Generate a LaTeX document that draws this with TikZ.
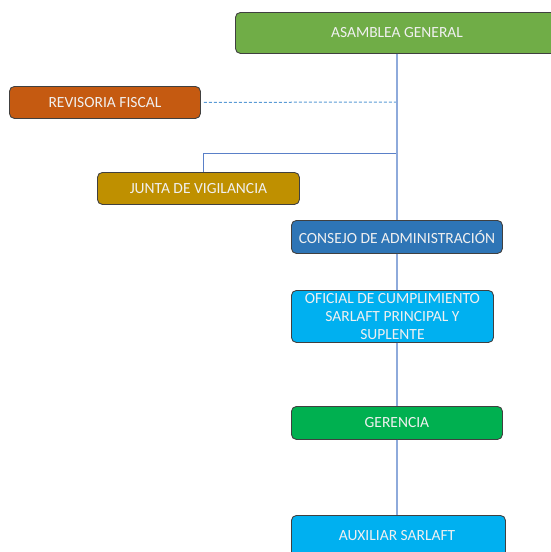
\documentclass[tikz,border=0pt]{standalone}
\usepackage{fontspec}
\setmainfont{Carlito}
\begin{document}
\begin{tikzpicture}[x=1pt,y=-1pt,
  box/.style={draw=black!75, line width=0.9pt, rounded corners=5pt, text=white!94!black, font=\fontsize{15.5}{18}\selectfont, align=center, inner sep=0pt},
  lbl/.style={text=white!94!black, font=\fontsize{15.5}{18}\selectfont},
  conn/.style={draw=linec, line width=1.6pt},
  hconn/.style={draw=hlinec, line width=0.8pt},
  dconn/.style={draw=dashc, line width=1pt, dash pattern=on 3pt off 2pt}]
\definecolor{ga}{HTML}{70AD47}
\definecolor{rf}{HTML}{C55A11}
\definecolor{jv}{HTML}{BF9000}
\definecolor{ca}{HTML}{2E75B6}
\definecolor{oc}{HTML}{00B0F0}
\definecolor{ge}{HTML}{00B050}
\definecolor{linec}{HTML}{8EAADB}
\definecolor{hlinec}{HTML}{5A80C8}
\definecolor{dashc}{HTML}{5B9BD5}
\useasboundingbox (0,0) rectangle (551,552);
\clip (0,0) rectangle (551,552);
\coordinate (t1) at (397,102);
\coordinate (t2) at (397,153);
\coordinate (t3) at (203,153);
\node[box, fill=ga, minimum width=330pt, minimum height=41pt, anchor=north west] (ag) at (235,12) {};
\node[lbl] (agt) at (397,32.5) {ASAMBLEA GENERAL};
\node[box, fill=rf, minimum width=191pt, minimum height=32pt, anchor=north west] (rf) at (9,86) {REVISORIA FISCAL};
\node[box, fill=jv, minimum width=202pt, minimum height=32pt, anchor=north west] (jv) at (97,172) {JUNTA DE VIGILANCIA};
\node[box, fill=ca, minimum width=211pt, minimum height=33pt, anchor=north west] (ca) at (291,220) {CONSEJO DE ADMINISTRACIÓN};
\node[box, fill=oc, minimum width=202pt, minimum height=52pt, anchor=north west] (oc) at (291,290) {OFICIAL DE CUMPLIMIENTO\\SARLAFT PRINCIPAL Y\\SUPLENTE};
\node[box, fill=ge, minimum width=211pt, minimum height=33pt, anchor=north west] (ge) at (291,406) {GERENCIA};
\node[box, fill=oc, minimum width=214pt, minimum height=44pt, anchor=north west] (ax) at (291,515) {};
\node[lbl] (axt) at (397,536) {AUXILIAR SARLAFT};
\draw[dconn] (rf.east) ++(3,0) -- (t1);
\draw[hconn] (t2) -- (t3) -- (jv.north -| t3);
\draw[conn] (397,53.5) -- (397,219.5);
\draw[conn] (397,253.5) -- (397,289.5);
\draw[conn] (397,342.5) -- (397,405.5);
\draw[conn] (397,439.5) -- (397,514.5);
\end{tikzpicture}
\end{document}
